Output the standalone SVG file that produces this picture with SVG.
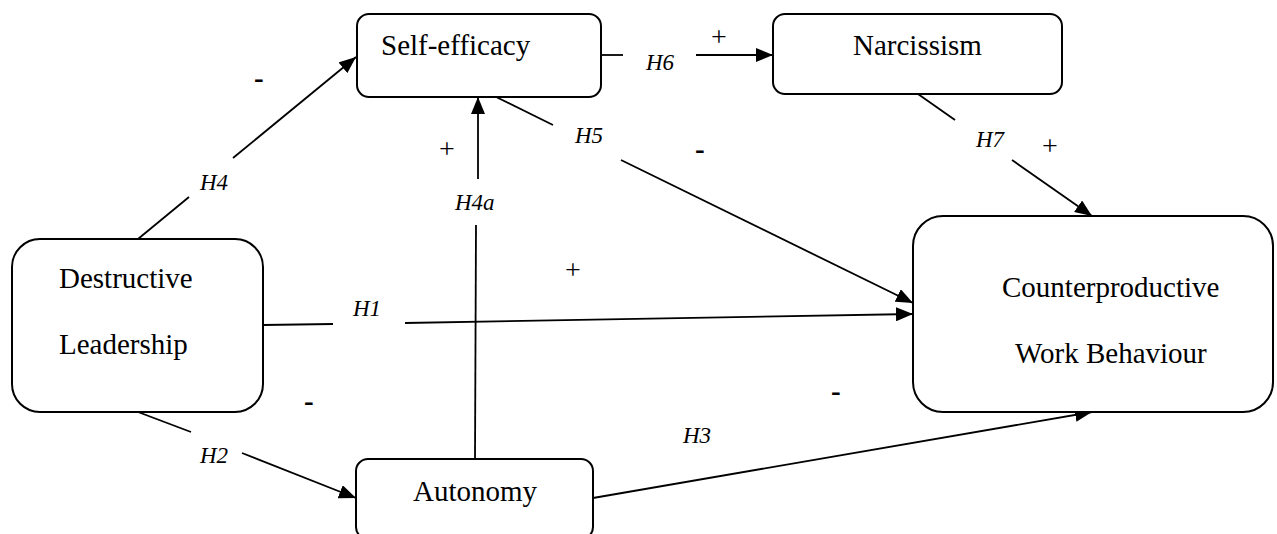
<svg xmlns="http://www.w3.org/2000/svg" width="1277" height="534" viewBox="0 0 1277 534">
<style>
.box{fill:#fff;stroke:#000;stroke-width:2}
.t{font-family:"Liberation Serif","Times New Roman",serif;font-size:29px;fill:#000}
.h{font-family:"Liberation Serif","Times New Roman",serif;font-size:23px;font-style:italic;fill:#000}
.s{font-family:"Liberation Serif","Times New Roman",serif;font-size:28px;fill:#000}
.m{font-family:"Liberation Serif","Times New Roman",serif;font-size:29px;font-weight:bold;fill:#000}
.c{stroke:#000;stroke-width:1.8;fill:none}
</style>
<defs>
<marker id="arr" markerUnits="userSpaceOnUse" markerWidth="17" markerHeight="14" refX="17" refY="7" orient="auto">
<path d="M0,0 L17,7 L0,14 z" fill="#000"/>
</marker>
</defs>
<rect width="1277" height="534" fill="#fff"/>
<g id="connectors">
<line class="c" x1="138" y1="239" x2="189" y2="197"/>
<line class="c" x1="233" y1="158" x2="356" y2="57" marker-end="url(#arr)"/>
<line class="c" x1="601" y1="55" x2="623" y2="55"/>
<line class="c" x1="696" y1="55" x2="773" y2="55" marker-end="url(#arr)"/>
<line class="c" x1="490" y1="94" x2="553" y2="125"/>
<line class="c" x1="621" y1="160" x2="913" y2="303" marker-end="url(#arr)"/>
<line class="c" x1="475" y1="459" x2="476" y2="225"/>
<line class="c" x1="478" y1="179" x2="478" y2="97" marker-end="url(#arr)"/>
<line class="c" x1="918" y1="94" x2="955" y2="120"/>
<line class="c" x1="1012" y1="160" x2="1092" y2="216" marker-end="url(#arr)"/>
<line class="c" x1="263" y1="325" x2="333" y2="324"/>
<line class="c" x1="405" y1="323" x2="913" y2="314" marker-end="url(#arr)"/>
<line class="c" x1="138" y1="412" x2="191" y2="432"/>
<line class="c" x1="242" y1="453" x2="356" y2="498" marker-end="url(#arr)"/>
<line class="c" x1="593" y1="498" x2="1092" y2="412" marker-end="url(#arr)"/>
</g>
<g id="labels">
<text class="h" x="200" y="190">H4</text>
<text class="m" x="254" y="88">-</text>
<text class="h" x="646" y="70">H6</text>
<text class="s" x="711" y="46">+</text>
<text class="h" x="575" y="143">H5</text>
<text class="m" x="695" y="159">-</text>
<text class="h" x="455" y="210">H4a</text>
<text class="s" x="439" y="158">+</text>
<text class="h" x="976" y="147">H7</text>
<text class="s" x="1042" y="155">+</text>
<text class="h" x="353" y="316">H1</text>
<text class="s" x="565" y="279">+</text>
<text class="h" x="200" y="463">H2</text>
<text class="m" x="304" y="411">-</text>
<text class="h" x="683" y="443">H3</text>
<text class="m" x="831" y="401">-</text>
</g>
<g id="self-efficacy">
<rect class="box" x="357" y="14" width="244" height="83" rx="12"/>
<text class="t" x="381" y="55">Self-efficacy</text>
</g>
<g id="narcissism">
<rect class="box" x="773" y="14" width="289" height="80" rx="12"/>
<text class="t" x="853" y="55">Narcissism</text>
</g>
<g id="destructive-leadership">
<rect class="box" x="12" y="239" width="251" height="173" rx="28"/>
<text class="t" x="59" y="288">Destructive</text>
<text class="t" x="59" y="354">Leadership</text>
</g>
<g id="autonomy">
<rect class="box" x="356" y="459" width="237" height="80" rx="12"/>
<text class="t" x="413" y="501">Autonomy</text>
</g>
<g id="cwb">
<rect class="box" x="913" y="216" width="360" height="196" rx="30"/>
<text class="t" x="1002" y="297">Counterproductive</text>
<text class="t" x="1015" y="363">Work Behaviour</text>
</g>
</svg>
